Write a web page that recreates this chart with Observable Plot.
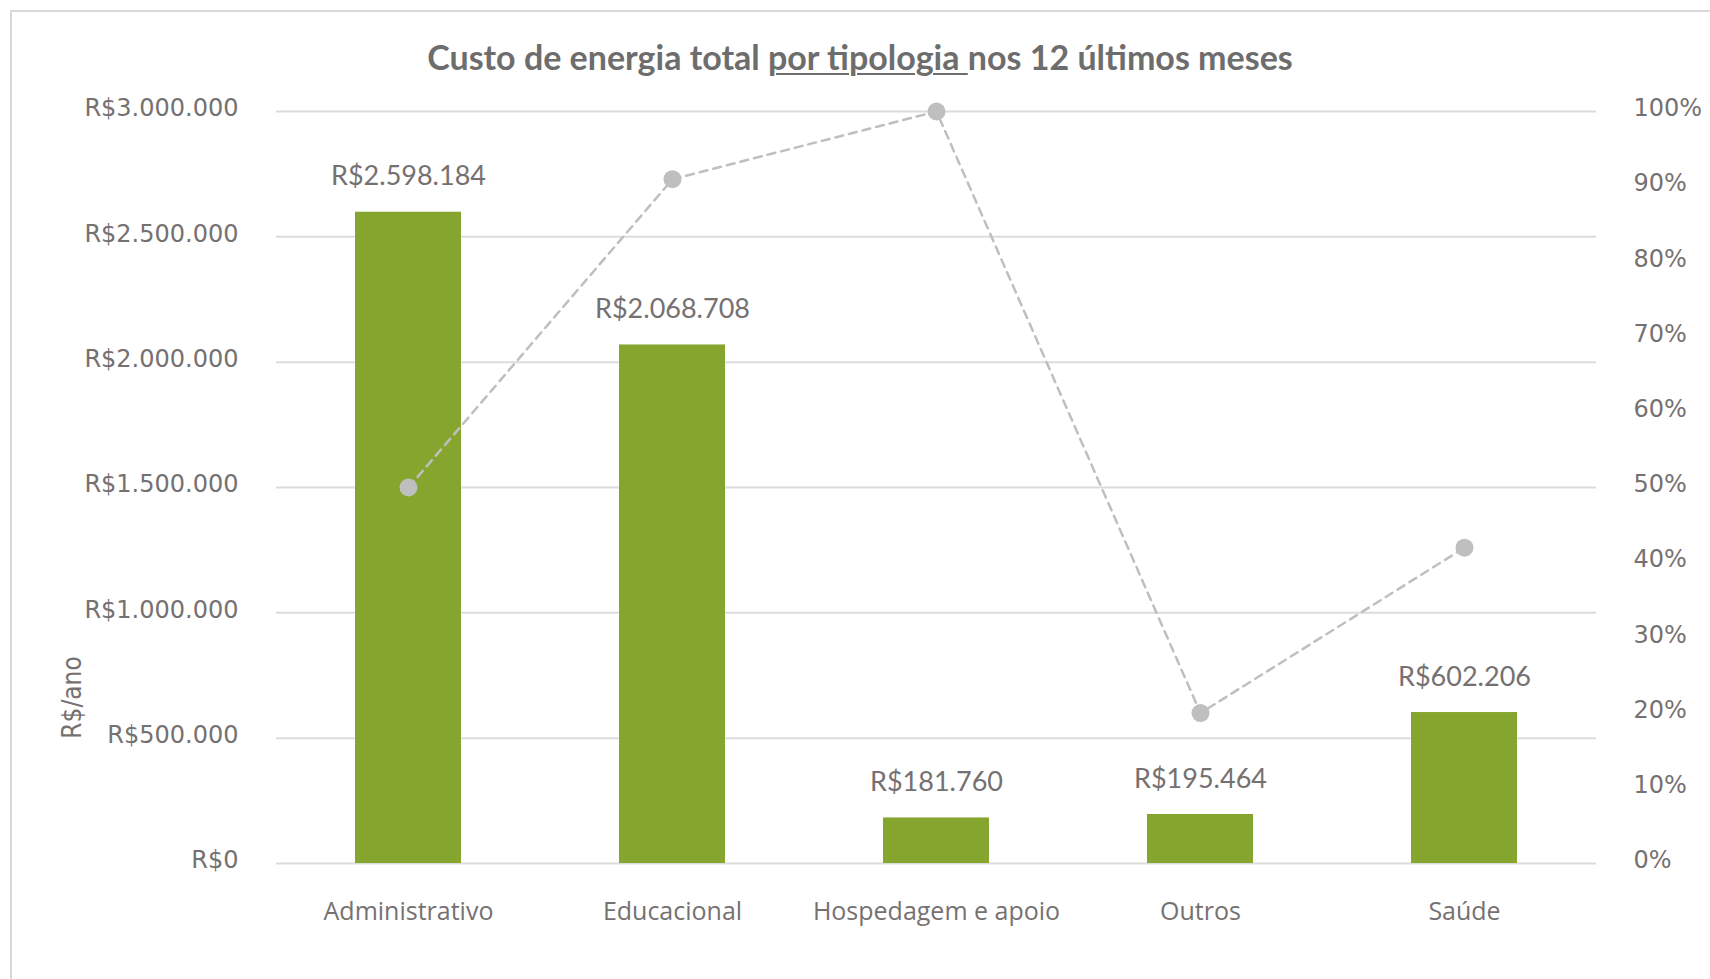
<!DOCTYPE html>
<html><head><meta charset="utf-8">
<script src="https://cdn.jsdelivr.net/npm/d3@7"></script>
<script src="https://cdn.jsdelivr.net/npm/@observablehq/plot@0.6"></script>
<style>
html,body{margin:0;padding:0;background:#fff;overflow:hidden;}
#wrap{position:relative;width:1710px;height:979px;overflow:hidden;}
#frame{position:absolute;left:10px;top:10px;width:1800px;height:1100px;border:2px solid #d9d9d9;box-sizing:border-box;}
#title{position:absolute;left:0;top:40px;width:1720px;text-align:center;font-family:Lato;font-weight:bold;font-size:34px;color:#6d6d6d;line-height:34px;white-space:nowrap;}
#title u{text-decoration-thickness:2px;text-underline-offset:3px;}
#chart{position:absolute;left:0;top:0;}
</style></head>
<body><div id="wrap"><div id="frame"></div><div id="chart"></div><div id="title">Custo de energia total <u>por tipologia </u>nos 12 últimos meses</div></div>
<script>
// ---- data ----
const categories = ["Administrativo", "Educacional", "Hospedagem e apoio", "Outros", "Saúde"];
const costs = [2598184, 2068708, 181760, 195464, 602206];   // R$/ano (bars, left axis)
const shares = [0.50, 0.91, 1.00, 0.20, 0.42];              // line, right axis
const costTicks = [0, 500000, 1000000, 1500000, 2000000, 2500000, 3000000];
const shareTicks = [0, 0.1, 0.2, 0.3, 0.4, 0.5, 0.6, 0.7, 0.8, 0.9, 1.0];
const yLabel = "R$/ano";

// secondary axis (0–100%) spans the same height as the primary axis (R$0–R$3.000.000)
const COST_MAX = 3000000;

const locale = d3.formatLocale({decimal: ",", thousands: ".", grouping: [3], currency: ["R$", ""]});
const fmt = locale.format("$,.0f");

const data = categories.map((c, i) => ({category: c, cost: costs[i], share: shares[i]}));
const shareY = d => d.share * COST_MAX;

const textColor = "#767171";

const chart = Plot.plot({
  width: 1710,
  height: 979,
  marginLeft: 276,
  marginRight: 114,
  marginTop: 111,
  marginBottom: 116,
  style: {background: "transparent", color: textColor},
  x: {domain: categories, paddingInner: 0.6, paddingOuter: 0.3, align: 0.5},
  y: {domain: [0, COST_MAX]},
  marks: [
    Plot.gridY(costTicks, {stroke: "#dcdcdc", strokeOpacity: 1, strokeWidth: 2}),
    Plot.barY(data, {x: "category", y: "cost", fill: "#85a52f"}),
    Plot.line(data, {x: "category", y: shareY, stroke: "#bfbfbf", strokeWidth: 2.5, strokeDasharray: "8,6"}),
    Plot.dot(data, {x: "category", y: shareY, r: 9, fill: "#bfbfbf", stroke: "none"}),
    Plot.axisY(costTicks, {anchor: "left", tickSize: 0, tickPadding: 38, dy: -3, tickFormat: fmt,
      fontSize: 24, fontFamily: "DejaVu Sans", label: null}),
    Plot.axisY(shareTicks.map(v => v * COST_MAX), {anchor: "right", tickSize: 0, tickPadding: 37, dy: -3,
      tickFormat: v => Math.round(v / COST_MAX * 100) + "%", fontSize: 24, fontFamily: "DejaVu Sans", label: null}),
    Plot.axisX({tickSize: 0, tickPadding: 39, fontSize: 25, fontFamily: "Open Sans", label: null}),
    Plot.text([yLabel], {frameAnchor: "bottom-left", dx: -204, dy: -166, rotate: -90, text: d => d,
      textAnchor: "middle", lineAnchor: "middle", fontSize: 26, fontFamily: "DejaVu Sans Condensed", fill: textColor}),
    Plot.text(data, {x: "category", y: "cost", text: d => fmt(d.cost), lineAnchor: "bottom", dy: -27,
      fontSize: 27, fontFamily: "Lato", fill: textColor})
  ]
});
document.getElementById("chart").appendChild(chart);
</script>
</body></html>
